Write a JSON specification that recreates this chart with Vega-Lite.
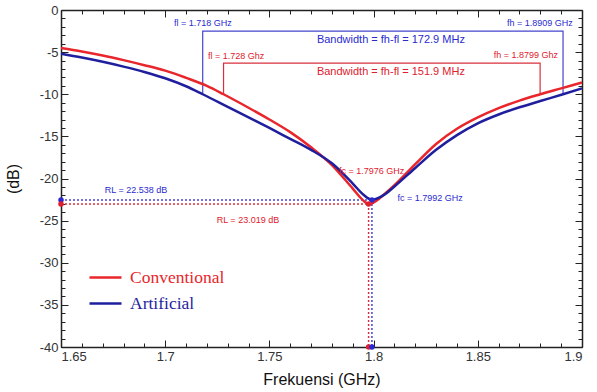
{
  "$schema": "https://vega.github.io/schema/vega-lite/v6.json",
  "autosize": "none",
  "width": 521,
  "height": 337,
  "padding": {"left": 61, "top": 10, "right": 15, "bottom": 45},
  "background": "white",
  "config": {
    "view": {"stroke": null},
    "font": "Liberation Sans",
    "axis": {
      "domainColor": "#222222",
      "domainWidth": 1.5,
      "tickColor": "#222222",
      "tickWidth": 1,
      "labelFont": "Liberation Sans",
      "labelFontSize": 13,
      "labelColor": "#333333",
      "titleFont": "Liberation Sans",
      "titleFontWeight": "normal",
      "titleColor": "#111111",
      "titleFontSize": 16,
      "grid": false
    }
  },
  "datasets": {
    "curves": [
      {"f": 1.65, "db": -4.5, "s": "Conventional"},
      {"f": 1.66, "db": -4.92, "s": "Conventional"},
      {"f": 1.67, "db": -5.4, "s": "Conventional"},
      {"f": 1.68, "db": -5.95, "s": "Conventional"},
      {"f": 1.69, "db": -6.55, "s": "Conventional"},
      {"f": 1.7, "db": -7.2, "s": "Conventional"},
      {"f": 1.71, "db": -8.05, "s": "Conventional"},
      {"f": 1.72, "db": -9.0, "s": "Conventional"},
      {"f": 1.728, "db": -10.0, "s": "Conventional"},
      {"f": 1.74, "db": -11.6, "s": "Conventional"},
      {"f": 1.75, "db": -13.0, "s": "Conventional"},
      {"f": 1.76, "db": -14.5, "s": "Conventional"},
      {"f": 1.77, "db": -16.3, "s": "Conventional"},
      {"f": 1.78, "db": -18.4, "s": "Conventional"},
      {"f": 1.79, "db": -21.2, "s": "Conventional"},
      {"f": 1.795, "db": -22.6, "s": "Conventional"},
      {"f": 1.7976, "db": -23.02, "s": "Conventional"},
      {"f": 1.8, "db": -22.85, "s": "Conventional"},
      {"f": 1.805, "db": -21.9, "s": "Conventional"},
      {"f": 1.81, "db": -20.8, "s": "Conventional"},
      {"f": 1.82, "db": -18.3, "s": "Conventional"},
      {"f": 1.83, "db": -15.9, "s": "Conventional"},
      {"f": 1.84, "db": -14.1, "s": "Conventional"},
      {"f": 1.85, "db": -12.75, "s": "Conventional"},
      {"f": 1.86, "db": -11.65, "s": "Conventional"},
      {"f": 1.87, "db": -10.75, "s": "Conventional"},
      {"f": 1.88, "db": -10.0, "s": "Conventional"},
      {"f": 1.89, "db": -9.3, "s": "Conventional"},
      {"f": 1.9, "db": -8.6, "s": "Conventional"},
      {"f": 1.65, "db": -5.2, "s": "Artificial"},
      {"f": 1.66, "db": -5.65, "s": "Artificial"},
      {"f": 1.67, "db": -6.15, "s": "Artificial"},
      {"f": 1.68, "db": -6.72, "s": "Artificial"},
      {"f": 1.69, "db": -7.35, "s": "Artificial"},
      {"f": 1.7, "db": -8.1, "s": "Artificial"},
      {"f": 1.71, "db": -9.05, "s": "Artificial"},
      {"f": 1.718, "db": -10.0, "s": "Artificial"},
      {"f": 1.73, "db": -11.5, "s": "Artificial"},
      {"f": 1.74, "db": -12.75, "s": "Artificial"},
      {"f": 1.75, "db": -14.0, "s": "Artificial"},
      {"f": 1.76, "db": -15.3, "s": "Artificial"},
      {"f": 1.77, "db": -16.6, "s": "Artificial"},
      {"f": 1.78, "db": -18.2, "s": "Artificial"},
      {"f": 1.79, "db": -20.6, "s": "Artificial"},
      {"f": 1.795, "db": -21.9, "s": "Artificial"},
      {"f": 1.7992, "db": -22.54, "s": "Artificial"},
      {"f": 1.805, "db": -21.95, "s": "Artificial"},
      {"f": 1.81, "db": -20.95, "s": "Artificial"},
      {"f": 1.82, "db": -18.75, "s": "Artificial"},
      {"f": 1.83, "db": -16.6, "s": "Artificial"},
      {"f": 1.84, "db": -14.85, "s": "Artificial"},
      {"f": 1.85, "db": -13.45, "s": "Artificial"},
      {"f": 1.86, "db": -12.4, "s": "Artificial"},
      {"f": 1.87, "db": -11.55, "s": "Artificial"},
      {"f": 1.88, "db": -10.8, "s": "Artificial"},
      {"f": 1.8909, "db": -10.0, "s": "Artificial"},
      {"f": 1.9, "db": -9.3, "s": "Artificial"}
    ],
    "brackets": [
      {"f": 1.718, "db": -10, "s": "Artificial", "o": 1},
      {"f": 1.718, "db": -2.5, "s": "Artificial", "o": 2},
      {"f": 1.8909, "db": -2.5, "s": "Artificial", "o": 3},
      {"f": 1.8909, "db": -10, "s": "Artificial", "o": 4},
      {"f": 1.728, "db": -10, "s": "Conventional", "o": 1},
      {"f": 1.728, "db": -6.3, "s": "Conventional", "o": 2},
      {"f": 1.8799, "db": -6.3, "s": "Conventional", "o": 3},
      {"f": 1.8799, "db": -10, "s": "Conventional", "o": 4}
    ],
    "rl": [
      {"f": 1.65, "f2": 1.7992, "db": -22.538, "db2": -22.538, "s": "Artificial"},
      {"f": 1.65, "f2": 1.7976, "db": -23.019, "db2": -23.019, "s": "Conventional"},
      {"f": 1.7992, "f2": 1.7992, "db": -22.538, "db2": -40, "s": "Artificial"},
      {"f": 1.7976, "f2": 1.7976, "db": -23.019, "db2": -40, "s": "Conventional"}
    ],
    "dots": [
      {"f": 1.65, "db": -22.538, "s": "Artificial"},
      {"f": 1.65, "db": -23.019, "s": "Conventional"},
      {"f": 1.7992, "db": -22.538, "s": "Artificial"},
      {"f": 1.7976, "db": -23.019, "s": "Conventional"},
      {"f": 1.7976, "db": -40, "s": "Conventional"},
      {"f": 1.7992, "db": -40, "s": "Artificial"}
    ],
    "texts": [
      {"f": 1.7181, "db": -1.6, "label": "fl = 1.718 GHz", "s": "Artificial", "kind": "small"},
      {"f": 1.8798, "db": -1.6, "label": "fh = 1.8909 GHz", "s": "Artificial", "kind": "small"},
      {"f": 1.8083, "db": -3.6, "label": "Bandwidth = fh-fl = 172.9 MHz", "s": "Artificial", "kind": "big"},
      {"f": 1.734, "db": -5.45, "label": "fl = 1.728 Ghz", "s": "Conventional", "kind": "small"},
      {"f": 1.8731, "db": -5.4, "label": "fh = 1.8799 Ghz", "s": "Conventional", "kind": "small"},
      {"f": 1.8083, "db": -7.4, "label": "Bandwidth = fh-fl = 151.9 MHz", "s": "Conventional", "kind": "big"},
      {"f": 1.686, "db": -21.4, "label": "RL = 22.538 dB", "s": "Artificial", "kind": "small"},
      {"f": 1.7397, "db": -24.9, "label": "RL = 23.019 dB", "s": "Conventional", "kind": "small"},
      {"f": 1.799, "db": -19.1, "label": "fc = 1.7976 GHz", "s": "Conventional", "kind": "small"},
      {"f": 1.8271, "db": -22.3, "label": "fc = 1.7992 GHz", "s": "Artificial", "kind": "small"}
    ]
  },
  "resolve": {"axis": {"x": "independent", "y": "independent"}},
  "layer": [
    {
      "data": {"name": "brackets"},
      "mark": {"type": "line", "strokeWidth": 1.2},
      "encoding": {
        "x": {"field": "f", "type": "quantitative",
          "scale": {"domain": [1.65, 1.9], "nice": false, "zero": false},
          "axis": {"orient": "top", "title": null, "labels": false,
            "values": [1.65, 1.7, 1.75, 1.8, 1.85, 1.9], "tickSize": -7}},
        "y": {"field": "db", "type": "quantitative",
          "scale": {"domain": [-40, 0], "nice": false, "zero": false},
          "axis": {"orient": "right", "title": null, "labels": false,
            "values": [-40, -35, -30, -25, -20, -15, -10, -5, 0], "tickSize": -7}},
        "stroke": {"field": "s", "type": "nominal", "legend": null,
          "scale": {"domain": ["Artificial", "Conventional"], "range": ["#4444cc", "#d8303c"]}},
        "order": {"field": "o", "type": "quantitative"}
      }
    },
    {
      "mark": {"type": "rule", "color": "#111111", "strokeWidth": 2, "strokeDash": [5, 4]},
      "encoding": {"y": {"datum": -10, "type": "quantitative", "axis": null}}
    },
    {
      "data": {"name": "rl"},
      "mark": {"type": "rule", "strokeWidth": 1.5, "strokeDash": [2, 2]},
      "encoding": {
        "x": {"field": "f", "type": "quantitative",
          "axis": {"orient": "top", "title": null, "labels": false, "domain": false,
            "values": [1.65,1.66,1.67,1.68,1.69,1.7,1.71,1.72,1.73,1.74,1.75,1.76,1.77,1.78,1.79,1.8,1.81,1.82,1.83,1.84,1.85,1.86,1.87,1.88,1.89,1.9],
            "tickSize": -4}},
        "x2": {"field": "f2"},
        "y": {"field": "db", "type": "quantitative",
          "axis": {"orient": "right", "title": null, "labels": false, "domain": false,
            "values": [-40,-39,-38,-37,-36,-35,-34,-33,-32,-31,-30,-29,-28,-27,-26,-25,-24,-23,-22,-21,-20,-19,-18,-17,-16,-15,-14,-13,-12,-11,-10,-9,-8,-7,-6,-5,-4,-3,-2,-1,0],
            "tickSize": -4}},
        "y2": {"field": "db2"},
        "stroke": {"field": "s", "type": "nominal", "legend": null}
      }
    },
    {
      "data": {"name": "curves"},
      "mark": {"type": "line", "strokeWidth": 2.5, "interpolate": "monotone"},
      "encoding": {
        "x": {"field": "f", "type": "quantitative",
          "axis": {"orient": "bottom", "title": "Frekuensi (GHz)", "titlePadding": 8,
            "values": [1.65, 1.7, 1.75, 1.8, 1.85, 1.9],
            "labelExpr": "'' + datum.value",
            "labelPadding": 10, "tickSize": -7}},
        "y": {"field": "db", "type": "quantitative",
          "axis": {"orient": "left", "title": "(dB)", "titlePadding": 18,
            "values": [-40, -35, -30, -25, -20, -15, -10, -5, 0],
            "labelExpr": "'' + datum.value",
            "labelPadding": 10, "tickSize": -7}},
        "color": {"field": "s", "type": "nominal",
          "scale": {"domain": ["Conventional", "Artificial"], "range": ["#e8262b", "#1f1f9e"]},
          "legend": {"orient": "none", "legendX": 27, "legendY": 250, "title": null, "padding": 0,
            "labelFont": "Liberation Serif", "labelFontSize": 17.5, "symbolType": "stroke",
            "symbolSize": 1024, "symbolStrokeWidth": 2.5, "rowPadding": -2, "labelOffset": 7,
            "encode": {"labels": {"update": {"fill": {"scale": "color", "field": "value"}}}}}}
      }
    },
    {
      "data": {"name": "dots"},
      "mark": {"type": "point", "filled": true, "size": 30, "opacity": 1},
      "encoding": {
        "x": {"field": "f", "type": "quantitative",
          "axis": {"orient": "bottom", "title": null, "labels": false, "domain": false,
            "values": [1.65,1.66,1.67,1.68,1.69,1.7,1.71,1.72,1.73,1.74,1.75,1.76,1.77,1.78,1.79,1.8,1.81,1.82,1.83,1.84,1.85,1.86,1.87,1.88,1.89,1.9],
            "tickSize": -4}},
        "y": {"field": "db", "type": "quantitative",
          "axis": {"orient": "left", "title": null, "labels": false, "domain": false,
            "values": [-40,-39,-38,-37,-36,-35,-34,-33,-32,-31,-30,-29,-28,-27,-26,-25,-24,-23,-22,-21,-20,-19,-18,-17,-16,-15,-14,-13,-12,-11,-10,-9,-8,-7,-6,-5,-4,-3,-2,-1,0],
            "tickSize": -4}},
        "fill": {"field": "s", "type": "nominal", "legend": null,
          "scale": {"domain": ["Artificial", "Conventional"], "range": ["#2a2ad0", "#e0202e"]}}
      }
    },
    {
      "data": {"name": "texts"},
      "transform": [{"filter": "datum.kind === 'small'"}],
      "mark": {"type": "text", "fontSize": 9, "font": "Liberation Sans", "align": "center", "baseline": "middle"},
      "encoding": {
        "x": {"field": "f", "type": "quantitative", "axis": null},
        "y": {"field": "db", "type": "quantitative", "axis": null},
        "text": {"field": "label"},
        "fill": {"field": "s", "type": "nominal", "legend": null}
      }
    },
    {
      "data": {"name": "texts"},
      "transform": [{"filter": "datum.kind === 'big'"}],
      "mark": {"type": "text", "fontSize": 11, "font": "Liberation Sans", "align": "center", "baseline": "middle"},
      "encoding": {
        "x": {"field": "f", "type": "quantitative", "axis": null},
        "y": {"field": "db", "type": "quantitative", "axis": null},
        "text": {"field": "label"},
        "fill": {"field": "s", "type": "nominal", "legend": null}
      }
    }
  ]
}
